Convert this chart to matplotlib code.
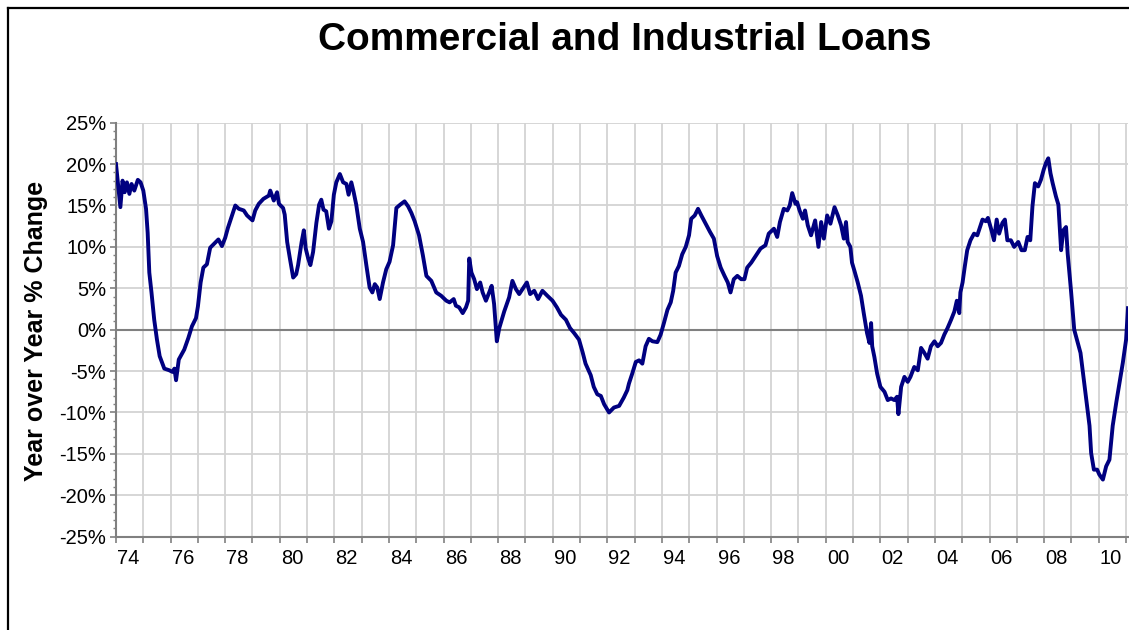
import matplotlib
matplotlib.use("Agg")
import matplotlib.pyplot as plt
from matplotlib.lines import Line2D
from matplotlib.ticker import MultipleLocator, FixedLocator, FuncFormatter

plt.rcParams['font.family'] = ['Liberation Sans', 'DejaVu Sans']

title = "Commercial and Industrial Loans"
ylabel = "Year over Year % Change"

years = [
    1974.00, 1974.08, 1974.16, 1974.24, 1974.32, 1974.40, 1974.49, 1974.57, 1974.67, 1974.80,
    1974.90, 1975.00, 1975.10, 1975.16, 1975.22, 1975.30, 1975.40, 1975.50, 1975.60, 1975.77,
    1975.95, 1976.07, 1976.14, 1976.20, 1976.30, 1976.50, 1976.65, 1976.78, 1976.93, 1977.00,
    1977.10, 1977.20, 1977.33, 1977.45, 1977.57, 1977.75, 1977.88, 1978.00, 1978.10, 1978.25,
    1978.37, 1978.50, 1978.68, 1978.80, 1979.00, 1979.10, 1979.23, 1979.40, 1979.60, 1979.65,
    1979.78, 1979.90, 1979.97, 1980.12, 1980.18, 1980.27, 1980.37, 1980.49, 1980.60, 1980.67,
    1980.80, 1980.88, 1980.95, 1981.04, 1981.12, 1981.22, 1981.34, 1981.44, 1981.52, 1981.60,
    1981.70, 1981.80, 1981.89, 1981.98, 1982.07, 1982.20, 1982.32, 1982.44, 1982.52, 1982.62,
    1982.70, 1982.80, 1982.93, 1983.05, 1983.17, 1983.29, 1983.39, 1983.48, 1983.57, 1983.66,
    1983.78, 1983.90, 1984.02, 1984.15, 1984.27, 1984.41, 1984.57, 1984.70, 1984.82, 1984.94,
    1985.10, 1985.24, 1985.37, 1985.55, 1985.73, 1985.91, 1986.10, 1986.22, 1986.37, 1986.45,
    1986.57, 1986.70, 1986.82, 1986.90, 1986.94, 1987.02, 1987.12, 1987.22, 1987.34, 1987.43,
    1987.55, 1987.67, 1987.76, 1987.85, 1987.95, 1988.04, 1988.22, 1988.40, 1988.52, 1988.65,
    1988.77, 1988.89, 1989.05, 1989.17, 1989.32, 1989.46, 1989.62, 1989.80, 1989.99, 1990.15,
    1990.30, 1990.48, 1990.63, 1990.78, 1990.96, 1991.09, 1991.20, 1991.39, 1991.50, 1991.63,
    1991.76, 1991.88, 1992.06, 1992.24, 1992.43, 1992.60, 1992.73, 1992.79, 1992.91, 1993.04,
    1993.16, 1993.28, 1993.40, 1993.52, 1993.65, 1993.83, 1993.95, 1994.07, 1994.20, 1994.32,
    1994.41, 1994.50, 1994.62, 1994.74, 1994.87, 1994.99, 1995.07, 1995.20, 1995.32, 1995.44,
    1995.60, 1995.76, 1995.90, 1996.02, 1996.15, 1996.29, 1996.41, 1996.51, 1996.63, 1996.76,
    1996.90, 1997.02, 1997.12, 1997.27, 1997.43, 1997.61, 1997.79, 1997.91, 1998.10, 1998.22,
    1998.32, 1998.46, 1998.59, 1998.68, 1998.77, 1998.89, 1998.95, 1999.04, 1999.16, 1999.24,
    1999.34, 1999.46, 1999.61, 1999.73, 1999.83, 1999.93, 2000.05, 2000.17, 2000.32, 2000.44,
    2000.56, 2000.66, 2000.74, 2000.80, 2000.90, 2000.96, 2001.05, 2001.17, 2001.29, 2001.39,
    2001.51, 2001.60, 2001.66, 2001.70, 2001.78, 2001.88, 2002.00, 2002.15, 2002.27, 2002.39,
    2002.51, 2002.61, 2002.66, 2002.76, 2002.88, 2003.00, 2003.10, 2003.24, 2003.37, 2003.49,
    2003.61, 2003.73, 2003.85, 2003.98, 2004.10, 2004.22, 2004.34, 2004.46, 2004.59, 2004.71,
    2004.80, 2004.89, 2004.93, 2005.01, 2005.09, 2005.18, 2005.30, 2005.43, 2005.55, 2005.65,
    2005.74, 2005.86, 2005.94, 2006.07, 2006.16, 2006.26, 2006.35, 2006.47, 2006.56, 2006.65,
    2006.78, 2006.90, 2007.05, 2007.17, 2007.29, 2007.39, 2007.49, 2007.57, 2007.66, 2007.78,
    2007.88, 2007.98, 2008.06, 2008.15, 2008.23, 2008.31, 2008.43, 2008.52, 2008.62, 2008.70,
    2008.80, 2008.86, 2008.98, 2009.10, 2009.20, 2009.33, 2009.45, 2009.57, 2009.66, 2009.72,
    2009.82, 2009.94, 2010.02, 2010.15, 2010.27, 2010.39, 2010.51, 2010.64, 2010.76, 2010.88,
    2011.00, 2011.07,
]

yoy_change = [
    20.0, 17.4, 14.8, 18.0, 16.6, 17.8, 16.4, 17.6, 16.8, 18.1,
    17.8, 16.8, 14.6, 11.7, 6.9, 4.5, 1.2, -1.2, -3.2, -4.7,
    -4.9, -5.1, -4.7, -6.1, -3.6, -2.4, -1.0, 0.4, 1.4, 2.8,
    5.7, 7.5, 7.9, 9.9, 10.3, 10.9, 10.1, 11.1, 12.3, 13.8,
    15.0, 14.6, 14.4, 13.8, 13.2, 14.4, 15.2, 15.8, 16.2, 16.8,
    15.6, 16.6, 15.2, 14.7, 13.9, 10.6, 8.6, 6.3, 6.7, 7.8,
    10.6, 12.0, 9.8, 8.6, 7.8, 9.4, 12.9, 15.1, 15.7, 14.5,
    14.3, 12.2, 13.1, 16.3, 17.8, 18.8, 17.8, 17.6, 16.3, 17.8,
    16.7, 15.1, 12.2, 10.6, 7.8, 5.1, 4.5, 5.5, 5.1, 3.7,
    5.7, 7.3, 8.2, 10.2, 14.7, 15.1, 15.5, 14.9, 14.1, 13.1,
    11.4, 9.0, 6.5, 5.9, 4.5, 4.1, 3.5, 3.3, 3.7, 2.9,
    2.7, 2.0, 2.7, 3.5, 8.6, 6.9, 6.1, 4.9, 5.7, 4.5,
    3.5, 4.5, 5.3, 3.1, -1.4, 0.2, 2.2, 3.9, 5.9, 4.9,
    4.3, 4.9, 5.7, 4.3, 4.7, 3.7, 4.7, 4.1, 3.5, 2.7,
    1.8, 1.2, 0.2, -0.4, -1.2, -2.7, -4.1, -5.5, -6.9, -7.8,
    -8.0, -9.0, -10.0, -9.4, -9.2, -8.2, -7.3, -6.5, -5.3, -3.9,
    -3.7, -4.1, -2.0, -1.1, -1.4, -1.5, -0.6, 0.8, 2.4, 3.3,
    4.7, 6.9, 7.7, 9.1, 10.0, 11.4, 13.4, 13.8, 14.6, 13.8,
    12.8, 11.8, 11.0, 8.9, 7.5, 6.5, 5.7, 4.5, 6.1, 6.5,
    6.1, 6.1, 7.5, 8.1, 8.9, 9.8, 10.2, 11.6, 12.2, 11.2,
    13.0, 14.6, 14.4, 15.0, 16.5, 15.2, 15.4, 14.4, 13.4, 14.4,
    12.6, 11.4, 13.2, 10.0, 13.0, 11.0, 13.8, 12.8, 14.8, 13.8,
    12.6, 11.0, 13.0, 10.6, 10.0, 8.1, 7.1, 5.7, 4.1, 2.0,
    -0.4, -1.6, 0.8, -2.0, -3.3, -5.3, -6.9, -7.5, -8.5, -8.3,
    -8.5, -8.1, -10.2, -6.9, -5.7, -6.3, -5.7, -4.5, -4.9, -2.2,
    -2.8, -3.5, -2.0, -1.4, -2.0, -1.6, -0.6, 0.2, 1.2, 2.2,
    3.5, 2.0, 4.5, 5.7, 7.6, 9.6, 10.8, 11.6, 11.4, 12.4,
    13.3, 13.1, 13.5, 12.0, 10.8, 13.3, 11.6, 12.9, 13.3, 10.8,
    10.8, 10.0, 10.6, 9.6, 9.6, 11.2, 10.8, 14.9, 17.7, 17.3,
    18.1, 19.3, 20.1, 20.7, 18.9, 17.7, 16.1, 15.1, 9.6, 12.0,
    12.4, 9.2, 4.8, 0.0, -1.2, -2.8, -6.0, -9.2, -11.6, -14.9,
    -16.9, -16.9, -17.5, -18.1, -16.5, -15.7, -11.6, -8.8, -6.4, -4.0,
    -1.2, 2.6,
]

label_years = list(range(1974, 2011, 2))
x_tick_labels = ["%02d" % (y % 100) for y in label_years]

W, H = 1129, 630
fig = plt.figure(figsize=(W / 100, H / 100), dpi=100)
fig.patch.set_facecolor("white")

left, right, top, bottom = 116, 1128, 122.7, 536.7
ax = fig.add_axes([left / W, 1 - bottom / H, (right - left) / W, (bottom - top) / H])

ax.plot(years, yoy_change, color="#000080", lw=2.8, zorder=5, solid_joinstyle="round")

ax.set_xlim(1974, 2011.07)
ax.set_ylim(-25, 25)

grid_c = "#d3d3d3"
for yr in range(1975, 2012):
    ax.axvline(yr, color=grid_c, lw=1.3, zorder=1)
for v in range(-20, 30, 5):
    if v != 0:
        ax.axhline(v, color=grid_c, lw=1.3, zorder=1)
ax.axhline(0, color="#808080", lw=1.5, zorder=2)

for s in ["top", "right"]:
    ax.spines[s].set_visible(False)
for s in ["left", "bottom"]:
    ax.spines[s].set_color("#808080")
    ax.spines[s].set_linewidth(1.5)

# y ticks
ax.yaxis.set_major_locator(MultipleLocator(5))
ax.yaxis.set_minor_locator(MultipleLocator(1))
ax.yaxis.set_major_formatter(FuncFormatter(lambda v, p: "%d%%" % round(v)))
ax.tick_params(axis="y", which="major", direction="out", length=4, width=1.2,
               color="#808080", labelsize=14.5, pad=3)
ax.tick_params(axis="y", which="minor", direction="out", length=2.5, width=1.0,
               color="#808080")

# x ticks: tick marks every year, labels centered in 2-year slots
ax.xaxis.set_major_locator(FixedLocator(list(range(1974, 2012))))
ax.xaxis.set_major_formatter(FuncFormatter(lambda v, p: ""))
ax.xaxis.set_minor_locator(FixedLocator([y + 0.45 for y in label_years]))
ax.set_xticklabels(x_tick_labels, minor=True)
ax.tick_params(axis="x", which="major", direction="out", length=4, width=1.2, color="#808080")
ax.tick_params(axis="x", which="minor", length=0, labelsize=14.5, pad=9)

fig.text(0.553, 0.937, title, ha="center", va="center", fontsize=28, fontweight="bold")
fig.text(0.032, 0.4746, ylabel, ha="center", va="center", rotation=90,
         fontsize=18, fontweight="bold")

# outer chart frame (top and left edges visible)
fig.add_artist(Line2D([8 / W, 1.01], [1 - 7.5 / H, 1 - 7.5 / H], color="black", lw=1.6,
                      transform=fig.transFigure))
fig.add_artist(Line2D([8 / W, 8 / W], [1 - 7.5 / H, -0.01], color="black", lw=1.6,
                      transform=fig.transFigure))

fig.savefig("out.png", dpi=100, facecolor="white")
